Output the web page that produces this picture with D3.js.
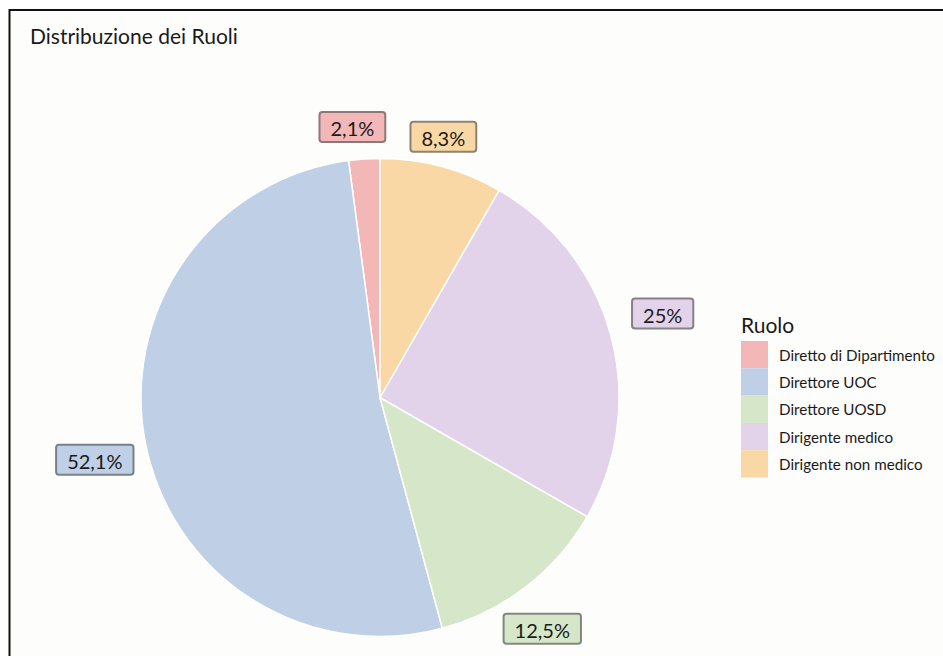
<!DOCTYPE html>
<html>
<head>
<meta charset="utf-8">
<script src="https://cdn.jsdelivr.net/npm/d3@7/dist/d3.min.js"></script>
<style>
  html, body { margin: 0; padding: 0; background: #ffffff; }
  svg { display: block; }
  text { font-family: Lato, "Noto Sans", sans-serif; fill: #1a1a1a; }
</style>
</head>
<body>
<svg id="chart" width="943" height="656"></svg>
<script>
// Roles and their share of respondents (percent)
const roles = ["Diretto di Dipartimento", "Direttore UOC", "Direttore UOSD", "Dirigente medico", "Dirigente non medico"];
const shares = [2.1, 52.1, 12.5, 25, 8.3];
const labels = ["2,1%", "52,1%", "12,5%", "25%", "8,3%"];
const palette = ["#f4b7b7", "#bfd0e6", "#d5e7c8", "#e2d2ea", "#f9d8a5"];

const title = "Distribuzione dei Ruoli";
const legendTitle = "Ruolo";

// small offsets applied to the outside labels so they don't crowd each other
const labelNudge = [[-10, -4], [0, 5], [-12, 5], [9, -10], [-7, 3]];

const W = 943, H = 656;
const svg = d3.select("#chart");

// panel frame (left and top edges are visible)
svg.append("rect").attr("x", 10).attr("y", 10).attr("width", W).attr("height", H)
  .attr("fill", "#fdfdfb");
svg.append("path")
  .attr("d", `M9.5,${H} L9.5,10 L${W},10`)
  .attr("fill", "none").attr("stroke", "#111").attr("stroke-width", 2);

svg.append("text").attr("x", 30).attr("y", 44)
  .attr("font-size", 21).text(title);

const cx = 380, cy = 397.5, R = 239;
const color = d3.scaleOrdinal().domain(roles).range(palette);

const data = roles.map((r, i) => ({ role: r, value: shares[i], label: labels[i], nudge: labelNudge[i] }));
const pie = d3.pie().value(d => d.value).sort(null).startAngle(0).endAngle(-2 * Math.PI);
const arcs = pie(data);
const arc = d3.arc().innerRadius(0).outerRadius(R);

const g = svg.append("g").attr("transform", `translate(${cx},${cy})`);
g.selectAll("path.slice").data(arcs).enter().append("path")
  .attr("class", "slice")
  .attr("d", arc)
  .attr("fill", d => color(d.data.role))
  .attr("stroke", "#ffffff").attr("stroke-width", 1.5);

// outside labels: boxes sit just beyond a ring, pushed out by their own extent
const ring = 250;
const lab = g.selectAll("g.lab").data(arcs).enter().append("g").attr("class", "lab");
lab.each(function(d) {
  const sel = d3.select(this);
  const t = sel.append("text").attr("font-size", 20)
    .attr("text-anchor", "middle").attr("dominant-baseline", "central")
    .text(d.data.label);
  const tw = t.node().getComputedTextLength();
  const bw = tw + 22, bh = 30;
  const a = (d.startAngle + d.endAngle) / 2;
  const dist = ring + Math.abs(Math.sin(a)) * bw / 2 + Math.abs(Math.cos(a)) * bh / 2;
  const x = Math.sin(a) * dist + d.data.nudge[0], y = -Math.cos(a) * dist + d.data.nudge[1];
  const c = d3.color(color(d.data.role));
  sel.insert("rect", "text")
    .attr("x", x - bw / 2).attr("y", y - bh / 2)
    .attr("width", bw).attr("height", bh).attr("rx", 3)
    .attr("fill", c.formatHex())
    .attr("stroke", d3.interpolateRgb(c, "#555")(0.65)).attr("stroke-width", 2);
  t.attr("x", x).attr("y", y + 1);
});

// legend
const lg = svg.append("g").attr("transform", "translate(741,0)");
lg.append("text").attr("x", 0).attr("y", 333).attr("font-size", 21).text(legendTitle);
const keyH = 27.3, keyTop = 341;
const rows = lg.selectAll("g.key").data(roles).enter().append("g")
  .attr("transform", (d, i) => `translate(0,${keyTop + i * keyH})`);
rows.append("rect").attr("width", 27).attr("height", keyH)
  .attr("fill", d => color(d));
rows.append("text").attr("x", 38).attr("y", keyH / 2).attr("dominant-baseline", "central")
  .attr("font-size", 15.2).text(d => d);
</script>
</body>
</html>
